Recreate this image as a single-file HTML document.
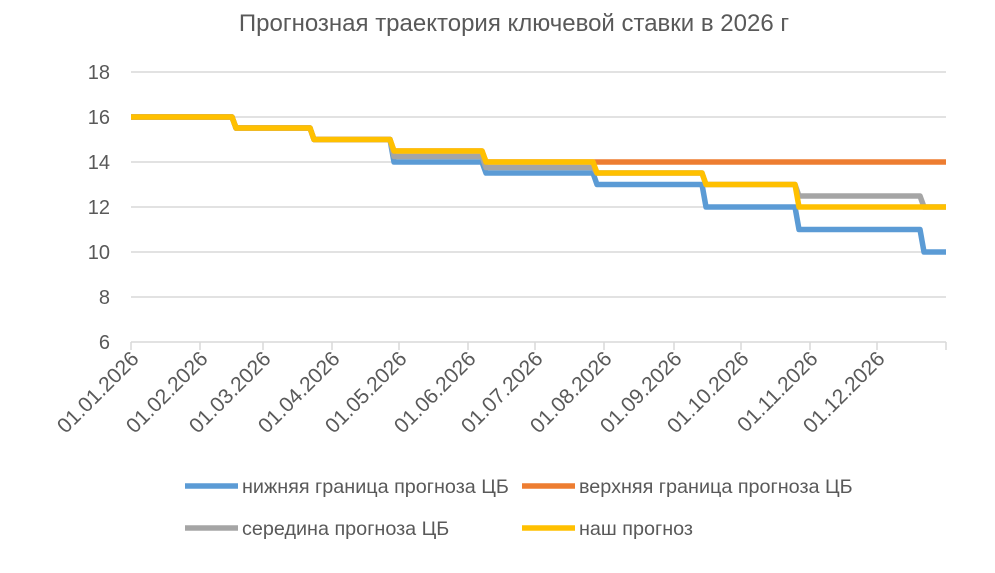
<!DOCTYPE html>
<html><head><meta charset="utf-8"><style>
body{margin:0;background:#fff;}
svg{display:block;font-family:"Liberation Sans",sans-serif;}
</style></head><body>
<svg width="995" height="573" viewBox="0 0 995 573" xmlns="http://www.w3.org/2000/svg">
<text x="514" y="31" text-anchor="middle" font-size="24" fill="#595959">Прогнозная траектория ключевой ставки в 2026 г</text>
<g stroke="#d9d9d9" stroke-width="1.5">
<line x1="131" y1="72" x2="946" y2="72"/>
<line x1="131" y1="117" x2="946" y2="117"/>
<line x1="131" y1="162" x2="946" y2="162"/>
<line x1="131" y1="207" x2="946" y2="207"/>
<line x1="131" y1="252" x2="946" y2="252"/>
<line x1="131" y1="297" x2="946" y2="297"/>
<line x1="131" y1="342" x2="946" y2="342"/>
<g>
<line x1="131" y1="342" x2="131" y2="350"/><line x1="200" y1="342" x2="200" y2="350"/><line x1="263" y1="342" x2="263" y2="350"/><line x1="332" y1="342" x2="332" y2="350"/><line x1="399" y1="342" x2="399" y2="350"/><line x1="468" y1="342" x2="468" y2="350"/><line x1="535" y1="342" x2="535" y2="350"/><line x1="604" y1="342" x2="604" y2="350"/><line x1="674" y1="342" x2="674" y2="350"/><line x1="741" y1="342" x2="741" y2="350"/><line x1="810" y1="342" x2="810" y2="350"/><line x1="877" y1="342" x2="877" y2="350"/><line x1="946" y1="342" x2="946" y2="350"/>
</g></g>
<g font-size="20" fill="#595959" text-anchor="end">
<text x="110" y="79">18</text><text x="110" y="124">16</text><text x="110" y="169">14</text><text x="110" y="214">12</text><text x="110" y="259">10</text><text x="110" y="304">8</text><text x="110" y="349">6</text>
</g>
<g font-size="21" fill="#595959" text-anchor="end">
<text transform="translate(140 360) rotate(-45)">01.01.2026</text>
<text transform="translate(209 360) rotate(-45)">01.02.2026</text>
<text transform="translate(272 360) rotate(-45)">01.03.2026</text>
<text transform="translate(341 360) rotate(-45)">01.04.2026</text>
<text transform="translate(408 360) rotate(-45)">01.05.2026</text>
<text transform="translate(477 360) rotate(-45)">01.06.2026</text>
<text transform="translate(544 360) rotate(-45)">01.07.2026</text>
<text transform="translate(613 360) rotate(-45)">01.08.2026</text>
<text transform="translate(683 360) rotate(-45)">01.09.2026</text>
<text transform="translate(750 360) rotate(-45)">01.10.2026</text>
<text transform="translate(819 360) rotate(-45)">01.11.2026</text>
<text transform="translate(886 360) rotate(-45)">01.12.2026</text>
</g>
<g fill="none" stroke-width="5.5" stroke-linejoin="round">
<polyline stroke="#5b9bd5" points="131,117 232,117 236,128 310,128 314,139.5 390,139.5 394,162 482,162 486,173 593,173 597,184.5 702,184.5 706,207 795,207 799,229.5 920,229.5 924,252 946,252"/>
<polyline stroke="#ed7d31" points="131,117 232,117 236,128 310,128 314,139.5 390,139.5 394,151 482,151 486,162 946,162"/>
<polyline stroke="#a5a5a5" points="131,117 232,117 236,128 310,128 314,139.5 390,139.5 394,156.5 482,156.5 486,167.5 593,167.5 597,173 702,173 706,184.5 795,184.5 799,196 920,196 924,207 946,207"/>
<polyline stroke="#ffc000" points="131,117 232,117 236,128 310,128 314,139.5 390,139.5 394,151 482,151 486,162 593,162 597,173 702,173 706,184.5 795,184.5 799,207 946,207"/>
</g>
<g stroke-width="5.5">
<line x1="185" y1="486" x2="238" y2="486" stroke="#5b9bd5"/>
<line x1="522" y1="486" x2="575" y2="486" stroke="#ed7d31"/>
<line x1="185" y1="528" x2="238" y2="528" stroke="#a5a5a5"/>
<line x1="522" y1="528" x2="575" y2="528" stroke="#ffc000"/>
</g>
<g font-size="19.8" fill="#595959">
<text x="242" y="493">нижняя граница прогноза ЦБ</text>
<text x="579" y="493">верхняя граница прогноза ЦБ</text>
<text x="242" y="535">середина прогноза ЦБ</text>
<text x="579" y="535">наш прогноз</text>
</g>
</svg>
</body></html>
